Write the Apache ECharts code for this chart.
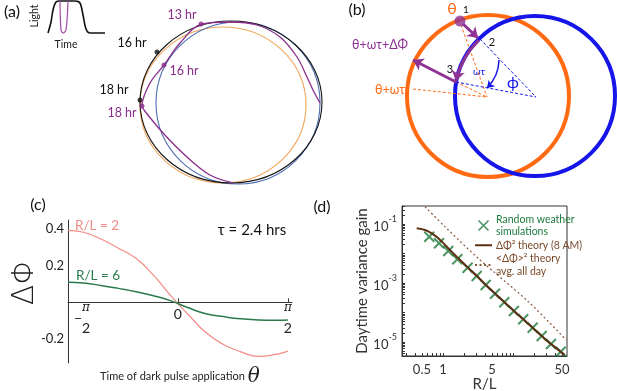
<!DOCTYPE html>
<html>
<head>
<meta charset="utf-8">
<script src="https://cdn.jsdelivr.net/npm/echarts@6.0.0/dist/echarts.min.js"></script>
<style>
html,body{margin:0;padding:0;background:#ffffff;}
#chart{width:617px;height:391px;}
</style>
</head>
<body>
<div id="chart"></div>
<script>
// ================= Panel (c): phase shift ΔΦ vs pulse time θ =================
const thetaValues = [-1.571, -1.35, -1.1, -0.85, -0.6, -0.35, -0.1, 0.15, 0.4, 0.65, 0.9, 1.15, 1.4, 1.571];
const dPhiRL2 = [0.392, 0.382, 0.345, 0.295, 0.240, 0.148, 0.035, -0.068, -0.165, -0.230, -0.270, -0.295, -0.284, -0.266];
const dPhiRL6 = [0.110, 0.105, 0.092, 0.076, 0.058, 0.036, 0.008, -0.030, -0.062, -0.078, -0.090, -0.096, -0.098, -0.096];
const cYTickValues = [-0.2, 0.2, 0.4];
const cXTickValues = [-Math.PI / 2, 0, Math.PI / 2];

// ================= Panel (d): daytime variance gain vs R/L (log-log) =================
const rlSim = [0.637, 0.877, 1.19, 1.60, 2.25, 3.03, 4.07, 5.53, 7.51, 10.3, 14.0, 19.1, 25.7, 34.9, 48.0];
const gainSim = [0.0372, 0.0222, 0.0122, 0.00635, 0.00331, 0.00173, 0.000855, 0.000434, 0.000222, 0.0001125, 5.89e-5, 3.05e-5, 1.6e-5, 8.55e-6, 4.69e-6];
const rlTheory = [0.421, 0.553, 0.69, 0.857, 1.19, 1.65, 2.25, 3.03, 4.07, 5.53, 7.51, 10.3, 14, 19.1, 25.7, 34.9, 48, 55];
const gain8AM = [0.0715, 0.0626, 0.0484, 0.0327, 0.015, 0.00687, 0.0034, 0.00175, 0.00087, 0.00044, 0.000225, 0.000113, 5.9e-5, 3.05e-5, 1.6e-5, 8.5e-6, 4.7e-6, 3.6e-6];
const rlAvg = [0.553, 1.068, 3.19, 16.6, 58];
const gainAvg = [0.385, 0.081, 0.00687, 0.000232, 1.15e-5];
const dXTickLabels = [0.5, 1, 5, 50];
const dYTickLabels = [1e-1, 1e-3, 1e-5];

// ================= Panel (a): limit-cycle sketch (diagram units) =================
const aEllipses = [[223, 105, 83, 78], [238, 103, 82, 81], [231, 102, 91, 81]]; // orange, blue, black
const aTrajectory = [[320,103],[313,90],[307,77],[297,57],[280,37],[257,25],[230,22],[202,24],[180,43],[164,65],[150,83],[142,106],[144,110],[163,133],[187,157],[210,175],[233,183]];
const aBlackDots = [[157, 52], [140, 100]];
const aPurpleDots = [[201, 24], [164, 65], [142, 106]];
const lightCurve = [[48,33],[51,22],[53,10],[56,2],[60,1],[75,1],[80,3],[83,15],[86,29],[90,33],[105,33]];
const darkPulse = [[60,1],[61,30],[63,33],[66,30],[68,1]];

// ================= Panel (b): geometric construction (diagram units) =================
const bCircles = [[488, 96, 81], [535, 96, 80]]; // orange, blue
const bDot = [[460, 21]];
const bPurpleArrows = [[[463, 24], [478, 38]], [[456, 82], [413, 60]]];
const bPurpleArc = [[[479, 40], [456, 81]]];
const bOrangeDashed = [[[461, 25], [487, 97]], [[413, 89], [487, 97]], [[456, 82], [487, 97]]];
const bBlueDashed = [[[480, 39], [536, 97]], [[456, 82], [536, 97]]];
const bOmegaArc = [[[499, 60], [487, 88]]];

const FONT = 'Lato, "Open Sans", sans-serif';
const PURPLE_A = '#8a2e8c', PURPLE_B = '#8e3295';
const ORANGE_B = '#ff6a13', BLUE_B = '#1515ea';
const SALMON = '#f38b86', GREEN_C = '#2b7a4b';
const GREEN_D = '#1e7a3c', BROWN = '#5c2e12', BROWN_T = '#7a4a2a';

// panel (c) value range and the offset that puts the θ axis on ΔΦ = 0
const C_YMIN = -0.331, C_YMAX = 0.449, C_H = 143;
const cZeroOffset = -C_H * (0 - C_YMIN) / (C_YMAX - C_YMIN);

// minor tick positions for log axes
const dXTicks = [];
[0.1, 1, 10].forEach(d => { for (let k = 1; k <= 9; k++) dXTicks.push(+(k * d).toPrecision(3)); });
const dYTicks = [];
[1e-6, 1e-5, 1e-4, 1e-3, 1e-2, 1e-1].forEach(d => { for (let k = 1; k <= 9; k++) dYTicks.push(+(k * d).toPrecision(3)); });

const pairs = (xs, ys) => xs.map((x, i) => [x, ys[i]]);

function ellipseSeries(data, colors, width) {
  return {
    type: 'custom', xAxisIndex: 2, yAxisIndex: 2, silent: true,
    data: data.map((e, i) => [e[0], e[1], e[2], e[3] !== undefined ? e[3] : e[2], i]),
    renderItem: (params, api) => {
      const c = api.coord([api.value(0), api.value(1)]);
      const s = api.size([api.value(2), api.value(3)]);
      return { type: 'ellipse', shape: { cx: c[0], cy: c[1], rx: Math.abs(s[0]), ry: Math.abs(s[1]) },
               style: { fill: 'none', stroke: colors[api.value(4)], lineWidth: width } };
    }
  };
}
function linesSeries(data, style, extra) {
  return Object.assign({
    type: 'lines', coordinateSystem: 'cartesian2d', xAxisIndex: 2, yAxisIndex: 2, silent: true,
    data: data.map(c => ({ coords: c })), lineStyle: Object.assign({ opacity: 1 }, style), symbol: ['none', 'none']
  }, extra || {});
}
function T(text, x, y, size, color, extra) {
  return Object.assign({ type: 'text', x: x, y: y, silent: true,
    style: Object.assign({ text: text, fontSize: size, fill: color, fontFamily: FONT, align: 'center', verticalAlign: 'middle' }, (extra && extra.style) || {}) },
    extra ? { rotation: extra.rotation || 0 } : {});
}

const option = {
  backgroundColor: '#ffffff',
  animation: false,
  textStyle: { fontFamily: FONT },
  grid: [
    { left: 68, top: 220, width: 224, height: C_H, outerBoundsMode: 'none' },
    { left: 402, top: 206, width: 165, height: 150, outerBoundsMode: 'none', show: true, borderColor: '#333', borderWidth: 1, backgroundColor: 'transparent' },
    { left: 0, top: 0, width: 617, height: 391, outerBoundsMode: 'none' }
  ],
  xAxis: [
    { gridIndex: 0, type: 'value', min: -Math.PI / 2, max: 1.63, position: 'bottom', offset: cZeroOffset,
      axisLine: { onZero: false, lineStyle: { color: '#333', width: 1 } },
      axisTick: { show: true, inside: true, length: 4, customValues: cXTickValues, lineStyle: { color: '#333' } },
      splitLine: { show: false },
      axisLabel: {
        customValues: cXTickValues, margin: 1, color: '#222',
        formatter: v => Math.abs(v) < 1e-9 ? '{z|0}' : (v < 0 ? '{sp|}{n|π}\n{sa|}{m|−}{sb|}\n{sp|}{d|2}' : '{n|π}\n{e| }\n{d|2}'),
        rich: {
          z: { fontSize: 14, lineHeight: 14, padding: [9, 0, 0, 0], color: '#222', fontFamily: FONT },
          n: { fontSize: 12, lineHeight: 10, fontStyle: 'italic', color: '#222', fontFamily: 'DejaVu Serif' },
          e: { fontSize: 10, lineHeight: 10 },
          d: { fontSize: 14, lineHeight: 10, color: '#222', fontFamily: FONT },
          sp: { width: 36, lineHeight: 10 },
          sa: { width: 28, lineHeight: 10 },
          sb: { width: 8, lineHeight: 10 },
          m: { fontSize: 14, lineHeight: 10, color: '#222' }
        }
      },
      name: '{t|Time of dark pulse application} {th|θ}', nameLocation: 'middle', nameGap: 64,
      nameTextStyle: { rich: { t: { fontSize: 11, color: '#222', fontFamily: FONT }, th: { fontSize: 20, fontStyle: 'italic', color: '#222', fontFamily: 'DejaVu Serif' } } }
    },
    { gridIndex: 1, type: 'log', min: 0.2597, max: 59.1,
      axisLine: { lineStyle: { color: '#333' } },
      axisTick: { inside: true, length: 3, customValues: dXTicks, lineStyle: { color: '#333' } },
      splitLine: { show: false },
      axisLabel: { customValues: dXTickLabels, formatter: v => String(v), fontSize: 13, color: '#333', margin: 7 },
      name: 'R/L', nameLocation: 'middle', nameGap: 19, nameTextStyle: { fontSize: 15, color: '#333' }
    },
    { gridIndex: 2, type: 'value', min: 0, max: 617, show: false }
  ],
  yAxis: [
    { gridIndex: 0, type: 'value', min: C_YMIN, max: C_YMAX,
      axisLine: { show: true, onZero: false, lineStyle: { color: '#333', width: 1 } },
      axisTick: { show: false }, splitLine: { show: false },
      axisLabel: { customValues: cYTickValues, fontSize: 13, color: '#222', margin: 4 }
    },
    { gridIndex: 1, type: 'log', min: 3.35e-6, max: 0.408,
      axisLine: { lineStyle: { color: '#333' } },
      axisTick: { inside: true, length: 3, customValues: dYTicks, lineStyle: { color: '#333' } },
      splitLine: { show: false },
      axisLabel: { customValues: dYTickLabels, margin: 5,
        formatter: v => '{b|10}{s|' + Math.round(Math.log10(v)) + '}',
        rich: { b: { fontSize: 13, lineHeight: 18, verticalAlign: 'bottom', color: '#333' },
                s: { fontSize: 9, lineHeight: 10, verticalAlign: 'top', color: '#333' } } },
      name: 'Daytime variance gain', nameLocation: 'middle', nameGap: 30,
      nameTextStyle: { fontSize: 15, color: '#333' }
    },
    { gridIndex: 2, type: 'value', min: 0, max: 391, inverse: true, show: false }
  ],
  legend: {
    orient: 'vertical', left: 474, top: 213, itemGap: 1, itemWidth: 17, itemHeight: 10, padding: 0,
    textStyle: { fontSize: 10.5, lineHeight: 12.5, fontFamily: FONT, padding: [0, 0, 0, -1] },
    data: [
      { name: 'Random weather\nsimulations', icon: 'path://M0,0L10,10M10,0L0,10',
        itemStyle: { color: 'transparent', borderColor: GREEN_D, borderWidth: 1.6 }, textStyle: { color: GREEN_D } },
      { name: 'ΔΦ² theory (8 AM)', itemStyle: { opacity: 0 }, textStyle: { color: BROWN_T } },
      { name: '<ΔΦ>² theory\navg. all day', itemStyle: { opacity: 0 }, textStyle: { color: BROWN_T } }
    ]
  },
  series: [
    // ---- panel (c)
    { type: 'line', xAxisIndex: 0, yAxisIndex: 0, data: pairs(thetaValues, dPhiRL2), smooth: true, showSymbol: false,
      lineStyle: { color: SALMON, width: 1.2 }, silent: true },
    { type: 'line', xAxisIndex: 0, yAxisIndex: 0, data: pairs(thetaValues, dPhiRL6), smooth: true, showSymbol: false,
      lineStyle: { color: GREEN_C, width: 1.5 }, silent: true },
    // ---- panel (d)
    { name: 'Random weather\nsimulations', type: 'scatter', xAxisIndex: 1, yAxisIndex: 1, data: pairs(rlSim, gainSim),
      symbol: 'path://M0,0L10,10M10,0L0,10', symbolSize: [10, 10],
      itemStyle: { color: 'transparent', borderColor: GREEN_D, borderWidth: 2 }, z: 2, silent: true },
    { name: 'ΔΦ² theory (8 AM)', type: 'line', xAxisIndex: 1, yAxisIndex: 1, data: pairs(rlTheory, gain8AM), smooth: 0.3,
      showSymbol: false, symbol: 'none', lineStyle: { color: BROWN, width: 2 }, itemStyle: { color: BROWN }, z: 3, silent: true },
    { name: '<ΔΦ>² theory\navg. all day', type: 'line', xAxisIndex: 1, yAxisIndex: 1, data: pairs(rlAvg, gainAvg), smooth: 0.3,
      showSymbol: false, symbol: 'none', clip: true, lineStyle: { color: '#8b5a3c', width: 1.2, type: [2, 2.5] }, itemStyle: { color: '#8b5a3c' }, silent: true },
    // ---- panel (a)
    ellipseSeries(aEllipses, ['#f2a55a', '#4d6db3', '#141414'], 1.1),
    { type: 'line', xAxisIndex: 2, yAxisIndex: 2, data: aTrajectory, smooth: 0.35, showSymbol: false,
      lineStyle: { color: PURPLE_A, width: 1.3 }, silent: true },
    { type: 'scatter', xAxisIndex: 2, yAxisIndex: 2, data: aBlackDots, symbolSize: 5, itemStyle: { color: '#111' }, silent: true },
    { type: 'scatter', xAxisIndex: 2, yAxisIndex: 2, data: aPurpleDots, symbolSize: 5, itemStyle: { color: PURPLE_A }, silent: true },
    { type: 'line', xAxisIndex: 2, yAxisIndex: 2, data: lightCurve, smooth: 0.3, showSymbol: false,
      lineStyle: { color: '#111', width: 1.6 }, silent: true },
    { type: 'line', xAxisIndex: 2, yAxisIndex: 2, data: darkPulse, smooth: 0.3, showSymbol: false,
      lineStyle: { color: '#a24aa8', width: 1.2 }, silent: true },
    // ---- panel (b)
    ellipseSeries(bCircles, [ORANGE_B, BLUE_B], 4),
    linesSeries(bOrangeDashed, { color: ORANGE_B, width: 1, type: [3, 2] }),
    linesSeries(bBlueDashed, { color: BLUE_B, width: 1, type: [3, 2] }),
    linesSeries(bPurpleArrows, { color: PURPLE_B, width: 3 }, { symbol: ['none', 'arrow'], symbolSize: 10, z: 5 }),
    linesSeries(bPurpleArc, { color: PURPLE_B, width: 3, curveness: -0.15 }, { symbol: ['none', 'arrow'], symbolSize: 10, z: 5 }),
    linesSeries(bOmegaArc, { color: BLUE_B, width: 1.5, curveness: 0.2 }, { symbol: ['none', 'arrow'], symbolSize: 7, z: 5 }),
    { type: 'scatter', xAxisIndex: 2, yAxisIndex: 2, data: bDot, symbolSize: 11, itemStyle: { color: PURPLE_B }, z: 6, silent: true }
  ],
  graphic: [
    T('(a)', 12, 12, 16, '#111'),
    T('(b)', 357, 10, 16, '#111'),
    T('(c)', 38, 205, 16, '#111'),
    T('(d)', 322, 207, 16, '#111'),
    T('ΔΦ', 25, 282, 30, '#222', { rotation: Math.PI / 2, style: { fontFamily: '"DejaVu Sans"', fontWeight: 200 } }),
    T('Light', 35, 16, 10.5, '#222', { rotation: Math.PI / 2 }),
    T('Time', 66, 45, 10.5, '#222'),
    T('16 hr', 132, 43, 12.5, '#111'),
    T('18 hr', 114, 90, 12.5, '#111'),
    T('13 hr', 182, 15, 12.5, PURPLE_A),
    T('16 hr', 184, 71, 12.5, PURPLE_A),
    T('18 hr', 122, 113, 12.5, PURPLE_A),
    T('θ', 452, 9, 16, ORANGE_B),
    T('1', 466, 10, 10, '#111'),
    T('2', 492, 42, 11, '#111'),
    T('3', 450, 69, 11, '#111'),
    T('θ+ωτ+ΔΦ', 380, 45, 12.5, PURPLE_B),
    T('θ+ωτ', 390, 90, 12.5, ORANGE_B),
    T('ωτ', 479, 72, 10, BLUE_B),
    T('ϕ', 513, 83, 16, BLUE_B),
    T('R/L = 2', 75, 226, 13.5, SALMON, { style: { align: 'left' } }),
    T('R/L = 6', 76, 276, 13.5, GREEN_C, { style: { align: 'left' } }),
    T('τ = 2.4 hrs', 252, 230, 15, '#111')
  ]
};
const chart = echarts.init(document.getElementById('chart'), null, { renderer: 'canvas' });
chart.setOption(option);
</script>
</body>
</html>
